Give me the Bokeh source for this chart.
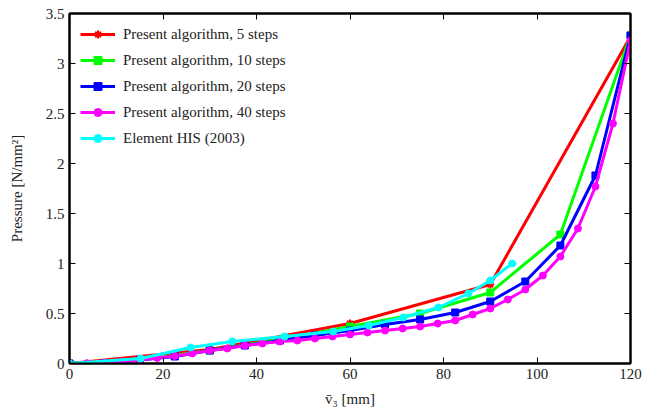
from bokeh.plotting import figure
from bokeh.models import Range1d, LinearAxis, FixedTicker, CustomJSTickFormatter, Legend, LegendItem
from bokeh.embed import file_html
from bokeh.resources import INLINE

# ---- data ----
x5 = [0, 30, 60, 90, 120]
y5 = [0, 0.14, 0.40, 0.79, 3.27]

x10 = [0, 15, 30, 45, 60, 75, 90, 105, 120]
y10 = [0, 0.035, 0.13, 0.24, 0.37, 0.50, 0.71, 1.29, 3.28]

x20 = [0, 7.5, 15, 22.5, 30, 37.5, 45, 52.5, 60, 67.5, 75, 82.5, 90, 97.5, 105, 112.5, 120]
y20 = [0, 0.005, 0.035, 0.07, 0.13, 0.18, 0.23, 0.28, 0.33, 0.39, 0.44, 0.51, 0.62, 0.82, 1.18, 1.88, 3.28]

x40 = [0, 3.75, 7.5, 11.25, 15, 18.75, 22.5, 26.25, 30, 33.75, 37.5, 41.25, 45, 48.75,
       52.5, 56.25, 60, 63.75, 67.5, 71.25, 75, 78.75, 82.5, 86.25, 90, 93.75, 97.5,
       101.25, 105, 108.75, 112.5, 116.25, 120]
y40 = [0, 0.003, 0.005, 0.02, 0.035, 0.055, 0.075, 0.10, 0.13, 0.15, 0.18, 0.20, 0.22, 0.23,
       0.25, 0.27, 0.29, 0.31, 0.33, 0.35, 0.37, 0.40, 0.43, 0.49, 0.55, 0.64, 0.74,
       0.88, 1.07, 1.35, 1.77, 2.40, 3.23]

xhis = [0, 15.2, 25.9, 34.8, 46, 56.4, 64, 71.4, 78.9, 85.3, 90, 94.7]
yhis = [0, 0.05, 0.16, 0.22, 0.27, 0.32, 0.38, 0.46, 0.56, 0.70, 0.83, 1.0]

xticks = [0, 20, 40, 60, 80, 100, 120]
yticks = [0, 0.5, 1, 1.5, 2, 2.5, 3, 3.5]

labels = ["Present algorithm, 5 steps", "Present algorithm, 10 steps",
          "Present algorithm, 20 steps", "Present algorithm, 40 steps",
          "Element HIS (2003)"]

FONT = "Liberation Serif"
FS = "15px"

p = figure(width=646, height=414, output_backend="svg", toolbar_location=None,
           x_range=Range1d(0, 120), y_range=Range1d(0, 3.5),
           min_border_left=69, min_border_right=16, min_border_top=13, min_border_bottom=51)
p.grid.visible = False
p.outline_line_color = "black"
p.outline_line_width = 2
p.background_fill_color = "white"
p.border_fill_color = "white"

p.xaxis.ticker = FixedTicker(ticks=xticks)
p.yaxis.ticker = FixedTicker(ticks=yticks)
p.yaxis.formatter = CustomJSTickFormatter(code="return tick.toString();")
for ax in (p.xaxis[0], p.yaxis[0]):
    ax.major_tick_in = 6
    ax.major_tick_out = 0
    ax.minor_tick_in = 0
    ax.minor_tick_out = 0
    ax.axis_line_width = 2
    ax.axis_line_color = "black"
    ax.major_label_text_font = FONT
    ax.major_label_text_font_size = FS
    ax.major_label_text_color = "#222222"
    ax.axis_label_text_font = FONT
    ax.axis_label_text_font_size = FS
    ax.axis_label_text_font_style = "normal"
    ax.axis_label_text_color = "#222222"
    ax.major_label_standoff = 5
p.xaxis.axis_label = "v\u0304\u2083 [mm]"
p.yaxis.axis_label = "Pressure [N/mm\u00b2]"
p.xaxis.axis_label_standoff = 9
p.yaxis.axis_label_standoff = 18

# mirror ticks
top = LinearAxis(ticker=FixedTicker(ticks=xticks), formatter=CustomJSTickFormatter(code="return '';"))
right = LinearAxis(ticker=FixedTicker(ticks=yticks), formatter=CustomJSTickFormatter(code="return '';"))
for ax in (top, right):
    ax.major_tick_in = 6
    ax.major_tick_out = 0
    ax.minor_tick_in = 0
    ax.minor_tick_out = 0
    ax.axis_line_width = 2
    ax.major_label_standoff = 0
    ax.major_label_text_font_size = "1px"
p.add_layout(top, "above")
p.add_layout(right, "right")

LW = 3
r1 = p.line(x5, y5, color="#ff0000", line_width=LW)
m1 = p.scatter(x5, y5, marker="asterisk", size=8, line_color="#ff0000", line_width=2)
r2 = p.line(x10, y10, color="#00ff00", line_width=LW)
m2 = p.scatter(x10, y10, marker="square", size=7, color="#00ff00")
r3 = p.line(x20, y20, color="#0000ff", line_width=LW)
m3 = p.scatter(x20, y20, marker="square", size=7, color="#0000ff")
r4 = p.line(x40, y40, color="#ff00ff", line_width=LW)
m4 = p.scatter(x40, y40, marker="circle", size=7, color="#ff00ff")
r5 = p.line(xhis, yhis, color="#00ffff", line_width=LW)
m5 = p.scatter(xhis, yhis, marker="circle", size=7, color="#00ffff")

items = [LegendItem(label=labels[0], renderers=[r1, m1]),
         LegendItem(label=labels[1], renderers=[r2, m2]),
         LegendItem(label=labels[2], renderers=[r3, m3]),
         LegendItem(label=labels[3], renderers=[r4, m4]),
         LegendItem(label=labels[4], renderers=[r5, m5])]
leg = Legend(items=items, location="top_left")
leg.border_line_color = None
leg.background_fill_alpha = 0
leg.label_text_font = FONT
leg.label_text_font_size = FS
leg.label_text_color = "#222222"
leg.glyph_width = 35
leg.glyph_height = 20
leg.label_height = 20
leg.spacing = 6
leg.label_standoff = 8
leg.margin = 11
p.add_layout(leg, "center")

open("out.html", "w").write(file_html(p, INLINE))
